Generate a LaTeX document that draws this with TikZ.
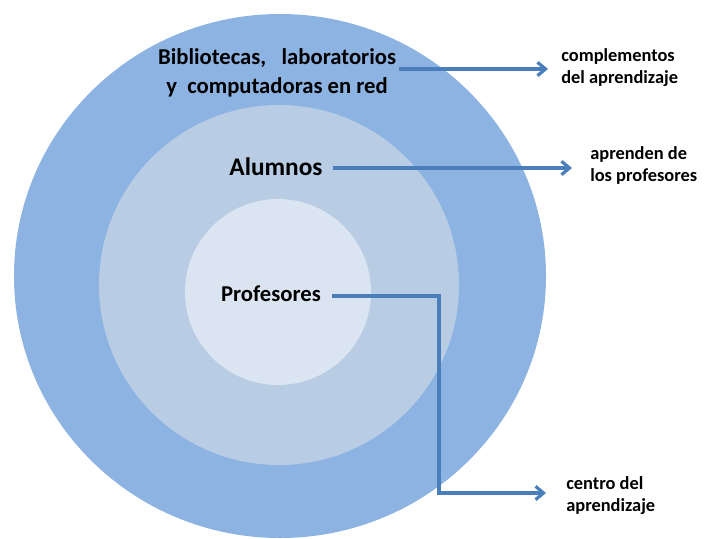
\documentclass[tikz,border=0pt]{standalone}
\usepackage{fontspec}
\setmainfont{Carlito}
\usetikzlibrary{arrows.meta,calc}
\definecolor{outerc}{HTML}{8DB3E2}
\definecolor{midc}{HTML}{B8CCE4}
\definecolor{innerc}{HTML}{DBE5F1}
\definecolor{arrc}{HTML}{4A7EBB}
\begin{document}
\begin{tikzpicture}[x=0.75pt,y=-0.75pt,
  conn/.style={draw=arrc,line width=2.4pt,-{Straight Barb[length=6pt,width=10pt]}},
  maintext/.style={font=\bfseries\fontsize{17}{22}\selectfont,text=black,align=center,inner sep=2pt},
  sidetext/.style={font=\bfseries\fontsize{13.8}{16.5}\selectfont,text=black,align=left,inner sep=0pt,anchor=west}]
\useasboundingbox (0,0) rectangle (712,538);
\fill[outerc] (280,276) ellipse [x radius=266,y radius=262];
\fill[midc] (279,285) ellipse [x radius=180,y radius=180];
\fill[innerc] (278,292) ellipse [x radius=93,y radius=93];
\node[maintext] (bib) at (277,72.5) {Bibliotecas,\ \ \ laboratorios\\y\ \ computadoras en red};
\node[maintext,font=\bfseries\fontsize{19}{22}\selectfont] (alu) at (276,167) {Alumnos};
\node[maintext] (pro) at (271,294) {Profesores};
\node[sidetext] (l1) at (561,68) {complementos\\del aprendizaje};
\node[sidetext] (l2) at (590,165) {aprenden de\\los profesores};
\node[sidetext] (l3) at (566,495.5) {centro del\\aprendizaje};
\coordinate (t1) at (548,69);
\coordinate (t2) at (572,168);
\coordinate (t3) at (546,493);
\coordinate (c3) at (439,296);
\draw[conn] (bib.east |- t1) -- (t1);
\draw[conn] (alu.east |- t2) ++(8,0) -- (t2);
\draw[conn] (pro.east |- c3) ++(8,0) -- (c3) -- (c3 |- t3) -- (t3);
\end{tikzpicture}
\end{document}
